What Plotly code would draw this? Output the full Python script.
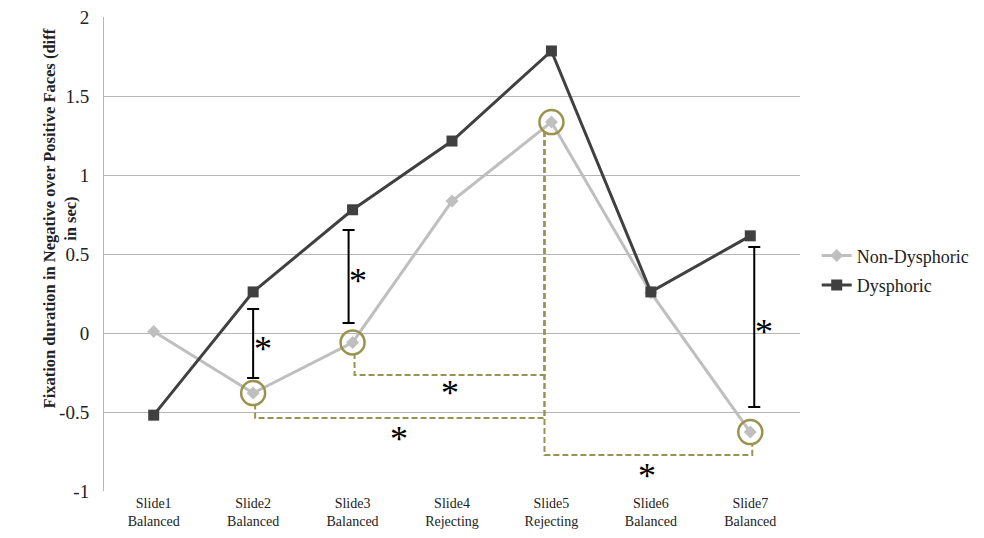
import plotly.graph_objects as go

# ---- data ----
slides = ["Slide1<br>Balanced", "Slide2<br>Balanced", "Slide3<br>Balanced", "Slide4<br>Rejecting",
          "Slide5<br>Rejecting", "Slide6<br>Balanced", "Slide7<br>Balanced"]
non_dysphoric = [0.01, -0.38, -0.06, 0.835, 1.335, 0.255, -0.627]
dysphoric = [-0.52, 0.26, 0.78, 1.215, 1.785, 0.26, 0.615]

y_ticks = [-1, -0.5, 0, 0.5, 1, 1.5, 2]
y_ticktext = ["-1", "-0.5", "0", "0.5", "1", "1.5", "2"]
y_title = "<b>Fixation duration in Negative over Positive Faces (diff<br>in sec)</b>"

# between-group differences (black brackets)
br_idx = [1, 2, 6]
br_low = [-0.285, 0.063, -0.468]
br_high = [0.152, 0.652, 0.544]

# within-group comparisons against Slide5 (olive circles + dashed connectors)
hub_idx = 4
comp_idx = [1, 2, 6]
comp_level = [-0.538, -0.266, -0.772]
circled_idx = [1, 2, 4, 6]

# significance stars
star_x = [1.1, 2.05, 6.14, 2.98, 2.47, 4.96]
star_y = [-0.07, 0.36, 0.038, -0.348, -0.639, -0.873]

OLIVE = "#9a9350"
DARK = "#404040"
LIGHT = "#bfbfbf"
FONT = "Liberation Serif"
TXT = "#222222"

xs = list(range(len(slides)))
fig = go.Figure()

fig.add_trace(go.Scatter(x=xs, y=non_dysphoric, name="Non-Dysphoric", mode="lines+markers",
                         legendgroup="nd",
                         line=dict(color=LIGHT, width=3),
                         marker=dict(symbol="diamond", size=10, color=LIGHT)))
fig.add_trace(go.Scatter(x=xs, y=dysphoric, name="Dysphoric", mode="lines+markers",
                         legendgroup="d",
                         line=dict(color=DARK, width=3),
                         marker=dict(symbol="square", size=11, color=DARK)))

# circles
fig.add_trace(go.Scatter(x=circled_idx, y=[non_dysphoric[i] for i in circled_idx], mode="markers",
                         showlegend=False, hoverinfo="skip",
                         marker=dict(symbol="circle-open", size=24, color=OLIVE,
                                     line=dict(width=2.5, color=OLIVE))))

# dashed connectors (all start from the Slide5 circle)
r = 0.076  # circle radius in data units
hub_x = hub_idx - 0.07
for idx, lvl in zip(comp_idx, comp_level):
    ox = idx + 0.02
    fig.add_trace(go.Scatter(
        x=[hub_x, hub_x, ox, ox],
        y=[non_dysphoric[hub_idx] - r + 0.02, lvl, lvl, non_dysphoric[idx] - r],
        mode="lines", showlegend=False, hoverinfo="skip",
        line=dict(color=OLIVE, width=2, dash="6px,3px")))

# black brackets via error bars
br_off = [0.0, -0.04, 0.04]
fig.add_trace(go.Scatter(
    x=[i + o for i, o in zip(br_idx, br_off)],
    y=[(l + h) / 2 for l, h in zip(br_low, br_high)],
    mode="markers", marker=dict(size=1, color="rgba(0,0,0,0)"), showlegend=False, hoverinfo="skip",
    error_y=dict(type="data", symmetric=True, array=[(h - l) / 2 for l, h in zip(br_low, br_high)],
                 color="black", thickness=2, width=6)))

for sx, sy in zip(star_x, star_y):
    fig.add_annotation(x=sx, y=sy, text="*", showarrow=False, xanchor="center", yanchor="middle",
                       font=dict(family=FONT, size=36, color="black"), yshift=-5)

# y-axis title (Excel style, sitting close to the tick labels)
fig.add_annotation(xref="paper", yref="paper", x=0, y=0.575, xanchor="center", yanchor="middle",
                   xshift=-44, text=y_title, textangle=-90, showarrow=False, align="center",
                   font=dict(size=16.5, family=FONT, color=TXT))

fig.update_layout(
    width=976, height=530,
    margin=dict(l=96, r=184, t=9, b=47),
    paper_bgcolor="white", plot_bgcolor="white",
    font=dict(family=FONT, color=TXT),
    legend=dict(x=1.024, y=0.535, xanchor="left", yanchor="top",
                font=dict(size=18, family=FONT, color=TXT),
                bgcolor="rgba(0,0,0,0)", tracegroupgap=3),
    showlegend=True,
)
fig.update_xaxes(range=[-0.5, 6.5], tickmode="array", tickvals=xs, ticktext=slides, automargin=False,
                 showgrid=False, showline=False, zeroline=False, ticks="",
                 tickfont=dict(size=14, family=FONT, color=TXT), ticklabelstandoff=2)
fig.update_yaxes(range=[-1, 2], tickmode="array", tickvals=y_ticks, ticktext=y_ticktext, automargin=False,
                 showgrid=True, gridcolor="#b5b5b5", gridwidth=1, ticklabeloverflow="allow",
                 zeroline=False, showline=True, linecolor="#b5b5b5", linewidth=1, ticks="",
                 tickfont=dict(size=19, family=FONT, color=TXT), ticklabelstandoff=10)

fig.write_html("out.html")
